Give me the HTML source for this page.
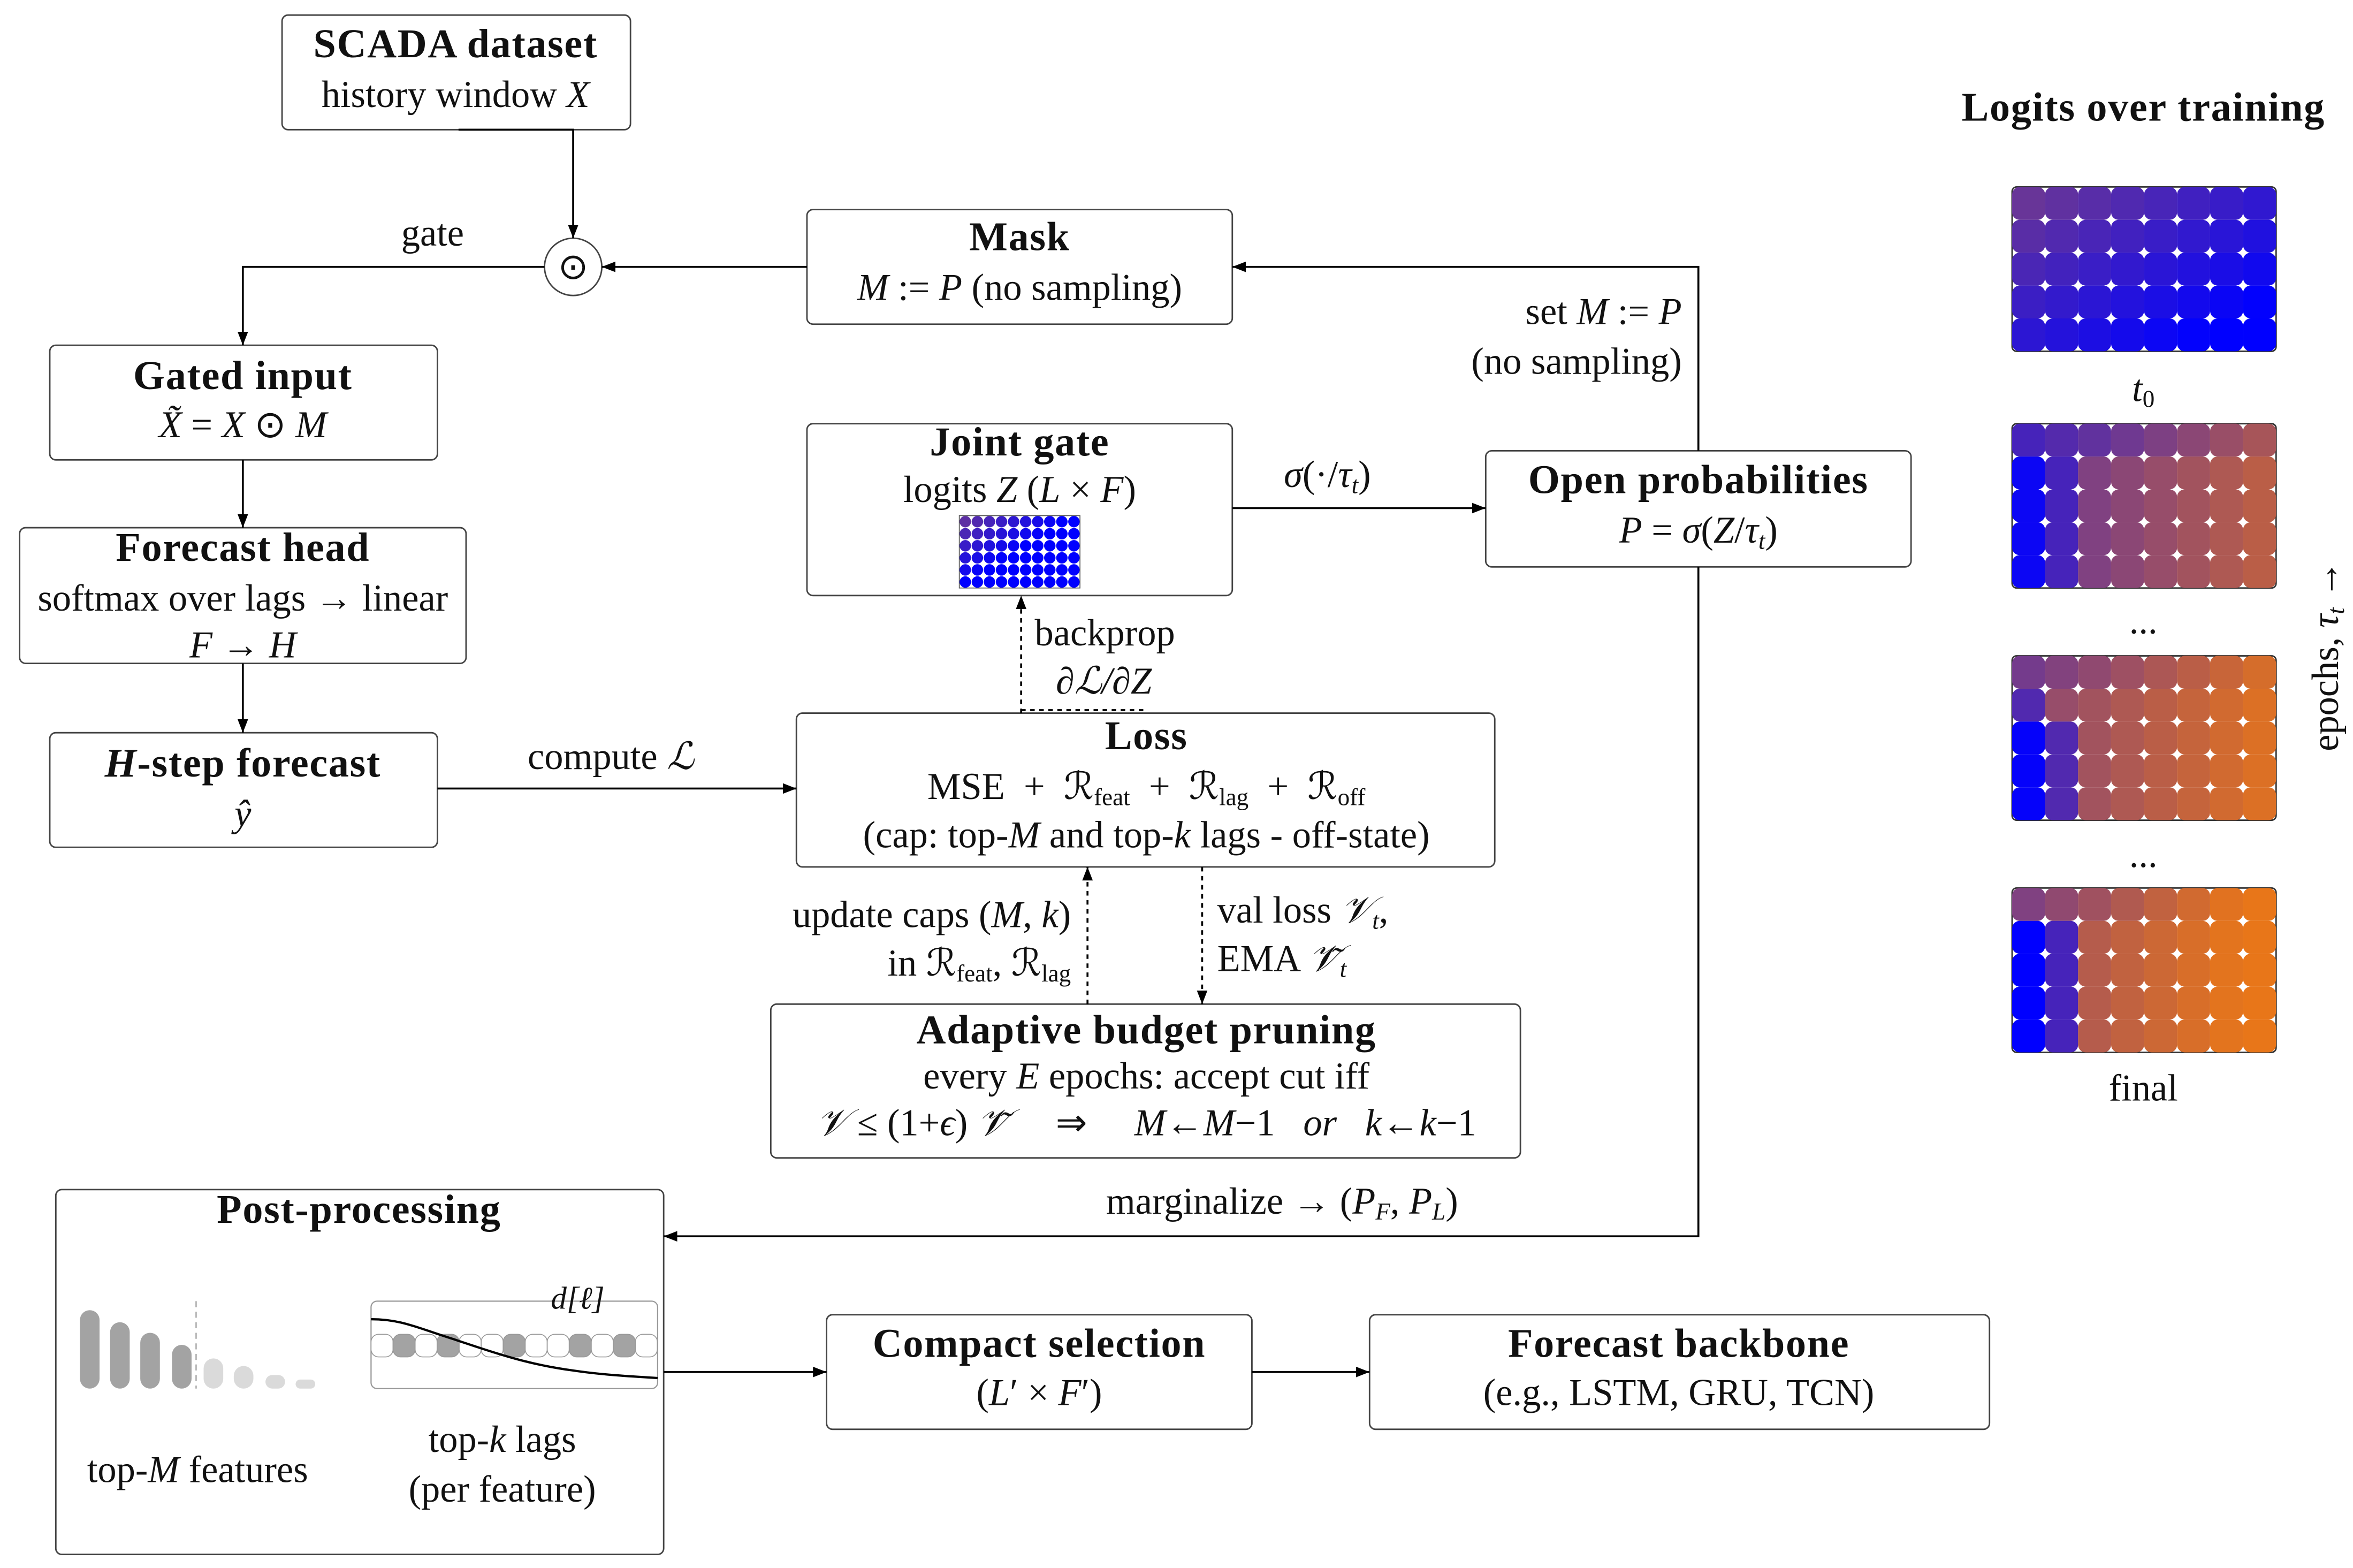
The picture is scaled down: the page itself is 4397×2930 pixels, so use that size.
<!DOCTYPE html>
<html><head><meta charset="utf-8"><style>
html,body{margin:0;padding:0;background:#fff;}
svg{display:block;}
text{font-family:"Liberation Serif",serif;fill:#111;white-space:pre;}
.t{font-size:27px;font-weight:bold;text-anchor:middle;letter-spacing:0.6px;}
.n{font-size:25px;text-anchor:middle;}
.l{font-size:25px;}
.b{fill:#fff;stroke:#444;stroke-width:1;}
.ln{stroke:#000;stroke-width:1.3;fill:none;}
.ds{stroke:#000;stroke-width:1.3;fill:none;stroke-dasharray:3,3;}
</style></head><body>
<svg id="s" width="4397" height="2930" viewBox="0 0 1560 1040" preserveAspectRatio="none" xmlns="http://www.w3.org/2000/svg">
<defs><marker id="a" markerWidth="10" markerHeight="8" refX="9" refY="4" orient="auto" markerUnits="userSpaceOnUse"><path d="M0,0.5 L9,4 L0,7.5 Z" fill="#000"/></marker></defs>

<rect class="b" x="187" y="10" width="231" height="76" rx="4"/>
<text class="t" x="302" y="38">SCADA dataset</text>
<text class="n" x="302" y="71">history window <tspan font-style="italic">X</tspan></text>

<circle cx="380" cy="177" r="19" fill="#fff" stroke="#444" stroke-width="1"/>
<text x="380" y="185" font-size="24" text-anchor="middle">⊙</text>

<rect class="b" x="535" y="139" width="282" height="76" rx="4"/>
<text class="t" x="676" y="166">Mask</text>
<text class="n" x="676" y="199"><tspan font-style="italic">M</tspan> := <tspan font-style="italic">P</tspan> (no sampling)</text>

<rect class="b" x="33" y="229" width="257" height="76" rx="4"/>
<text class="t" x="161" y="258">Gated input</text>
<text class="n" x="161" y="290"><tspan font-style="italic">X̃</tspan> = <tspan font-style="italic">X</tspan> ⊙ <tspan font-style="italic">M</tspan></text>

<rect class="b" x="13" y="350" width="296" height="90" rx="4"/>
<text class="t" x="161" y="372">Forecast head</text>
<text class="n" x="161" y="405">softmax over lags → linear</text>
<text class="n" x="161" y="436"><tspan font-style="italic">F</tspan> → <tspan font-style="italic">H</tspan></text>

<rect class="b" x="33" y="486" width="257" height="76" rx="4"/>
<text class="t" x="161" y="515"><tspan font-style="italic">H</tspan>-step forecast</text>
<text class="n" x="161" y="548" font-style="italic">ŷ</text>

<rect class="b" x="535" y="281" width="282" height="114" rx="4"/>
<text class="t" x="676" y="302">Joint gate</text>
<text class="n" x="676" y="333">logits <tspan font-style="italic">Z</tspan> (<tspan font-style="italic">L</tspan> × <tspan font-style="italic">F</tspan>)</text>
<g id="mini"></g>

<rect class="b" x="985" y="299" width="282" height="77" rx="4"/>
<text class="t" x="1126" y="327">Open probabilities</text>
<text class="n" x="1126" y="360"><tspan font-style="italic">P</tspan> = <tspan font-style="italic">σ</tspan>(<tspan font-style="italic">Z</tspan>/<tspan font-style="italic">τ</tspan><tspan font-size="16" font-style="italic" dy="4">t</tspan><tspan dy="-4">)</tspan></text>

<rect class="b" x="528" y="473" width="463" height="102" rx="4"/>
<text class="t" x="760" y="497">Loss</text>
<text class="n" x="760" y="530">MSE  +  ℛ<tspan font-size="16" dy="4">feat</tspan><tspan dy="-4">  +  ℛ</tspan><tspan font-size="16" dy="4">lag</tspan><tspan dy="-4">  +  ℛ</tspan><tspan font-size="16" dy="4">off</tspan></text>
<text class="n" x="760" y="562">(cap: top-<tspan font-style="italic">M</tspan> and top-<tspan font-style="italic">k</tspan> lags - off-state)</text>

<rect class="b" x="511" y="666" width="497" height="102" rx="4"/>
<text class="t" x="760" y="692">Adaptive budget pruning</text>
<text class="n" x="760" y="722">every <tspan font-style="italic">E</tspan> epochs: accept cut iff</text>
<text class="n" x="760" y="753"><tspan font-style="italic">𝒱</tspan> ≤ (1+<tspan font-style="italic">ϵ</tspan>) <tspan font-style="italic">𝒱̃</tspan>     ⇒     <tspan font-style="italic">M</tspan>←<tspan font-style="italic">M</tspan>−1   <tspan font-style="italic">or</tspan>   <tspan font-style="italic">k</tspan>←<tspan font-style="italic">k</tspan>−1</text>

<rect class="b" x="37" y="789" width="403" height="242" rx="4"/>
<text class="t" x="238" y="811">Post-processing</text>
<g fill="#a3a3a3">
<rect x="53" y="869" width="13" height="52" rx="6.5"/>
<rect x="73" y="877" width="13" height="44" rx="6.5"/>
<rect x="93" y="884" width="13" height="37" rx="6.5"/>
<rect x="114" y="892" width="13" height="29" rx="6.5"/>
</g>
<g fill="#dadada">
<rect x="135" y="901" width="13" height="20" rx="6.5"/>
<rect x="155" y="906" width="13" height="15" rx="6.5"/>
<rect x="176" y="912" width="13" height="9" rx="4.5"/>
<rect x="196" y="915" width="13" height="6" rx="3"/>
</g>
<line x1="130" y1="863" x2="130" y2="921" stroke="#999" stroke-width="0.8" stroke-dasharray="4,3"/>
<rect x="246" y="863" width="190" height="58" rx="4" fill="none" stroke="#999" stroke-width="0.8"/>
<g id="lags"></g>
<path d="M246,875 C265,875 275,880 300,888 C330,898 350,905 380,909 C400,912 420,913 436,914" stroke="#000" stroke-width="1.5" fill="none"/>
<text x="383" y="868" font-size="21" text-anchor="middle" font-style="italic">d[ℓ]</text>
<text class="n" x="131" y="983">top-<tspan font-style="italic">M</tspan> features</text>
<text class="n" x="333" y="963">top-<tspan font-style="italic">k</tspan> lags</text>
<text class="n" x="333" y="996">(per feature)</text>

<rect class="b" x="548" y="872" width="282" height="76" rx="4"/>
<text class="t" x="689" y="900">Compact selection</text>
<text class="n" x="689" y="932">(<tspan font-style="italic">L</tspan>′ × <tspan font-style="italic">F</tspan>′)</text>

<rect class="b" x="908" y="872" width="411" height="76" rx="4"/>
<text class="t" x="1113" y="900">Forecast backbone</text>
<text class="n" x="1113" y="932">(e.g., LSTM, GRU, TCN)</text>

<path class="ln" d="M304,86 H380 V158" marker-end="url(#a)"/>
<path class="ln" d="M535,177 H399" marker-end="url(#a)"/>
<path class="ln" d="M361,177 H161 V229" marker-end="url(#a)"/>
<text class="l" x="266" y="163">gate</text>
<path class="ln" d="M161,305 V350" marker-end="url(#a)"/>
<path class="ln" d="M161,440 V486" marker-end="url(#a)"/>
<path class="ln" d="M290,523 H528" marker-end="url(#a)"/>
<text class="n" x="405" y="510">compute <tspan font-style="italic">ℒ</tspan></text>
<path class="ds" d="M677,473 V395" marker-end="url(#a)"/>
<path class="ds" d="M677,471 H760"/>
<text class="l" x="686" y="428">backprop</text>
<text class="l" x="700" y="460" font-style="italic">∂ℒ/∂Z</text>
<path class="ln" d="M817,337 H985" marker-end="url(#a)"/>
<text class="n" x="880" y="323"><tspan font-style="italic">σ</tspan>(·/<tspan font-style="italic">τ</tspan><tspan font-size="16" font-style="italic" dy="4">t</tspan><tspan dy="-4">)</tspan></text>
<path class="ln" d="M1126,299 V177 H817" marker-end="url(#a)"/>
<path class="ln" d="M1126,376 V820 H440" marker-end="url(#a)"/>
<text class="l" x="1115" y="215" text-anchor="end">set <tspan font-style="italic">M</tspan> := <tspan font-style="italic">P</tspan></text>
<text class="l" x="1115" y="248" text-anchor="end">(no sampling)</text>
<text class="n" x="850" y="805">marginalize → (<tspan font-style="italic">P</tspan><tspan font-size="16" font-style="italic" dy="4">F</tspan><tspan dy="-4">, </tspan><tspan font-style="italic">P</tspan><tspan font-size="16" font-style="italic" dy="4">L</tspan><tspan dy="-4">)</tspan></text>
<path class="ds" d="M721,666 V575" marker-end="url(#a)"/>
<path class="ds" d="M797,575 V666" marker-end="url(#a)"/>
<text class="l" x="710" y="615" text-anchor="end">update caps (<tspan font-style="italic">M</tspan>, <tspan font-style="italic">k</tspan>)</text>
<text class="l" x="710" y="647" text-anchor="end">in ℛ<tspan font-size="16" dy="4">feat</tspan><tspan dy="-4">, ℛ</tspan><tspan font-size="16" dy="4">lag</tspan></text>
<text class="l" x="807" y="612">val loss <tspan font-style="italic">𝒱</tspan><tspan font-size="16" font-style="italic" dy="4">t</tspan><tspan dy="-4">,</tspan></text>
<text class="l" x="807" y="644">EMA <tspan font-style="italic">𝒱̃</tspan><tspan font-size="16" font-style="italic" dy="4">t</tspan></text>
<path class="ln" d="M440,910 H548" marker-end="url(#a)"/>
<path class="ln" d="M830,910 H908" marker-end="url(#a)"/>

<text class="t" x="1421" y="80">Logits over training</text>
<g id="grids"></g>
<text class="n" x="1421" y="266" font-style="italic">t<tspan font-size="16" dy="4" font-style="normal">0</tspan></text>
<text class="n" x="1421" y="420">...</text>
<text class="n" x="1421" y="575">...</text>
<text class="n" x="1421" y="730">final</text>
<text class="n" transform="translate(1550,435) rotate(-90)">epochs, <tspan font-style="italic">τ</tspan><tspan font-size="16" font-style="italic" dy="4">t</tspan><tspan dy="-4"> →</tspan></text>
</svg>
<script>
var NS="http://www.w3.org/2000/svg";
function mk(p,tag,at){var e=document.createElementNS(NS,tag);for(var k in at)e.setAttribute(k,at[k]);p.appendChild(e);return e;}
function col(w){w=Math.max(0,Math.min(1,w));var r=Math.round(232*w),g=Math.round(118*w),b=Math.round(255-230*w);return "rgb("+r+","+g+","+b+")";}
var G=document.getElementById("grids");
var ys=[124,281,435,589];
var fns=[
function(c,r){return 0.45-0.035*c-0.065*r;},
function(c,r){if(r==0)return 0.3+0.06*c; if(c==0)return 0.05; if(c==1)return 0.3; return 0.45+0.05*c;},
function(c,r){if(r==0)return 0.5+0.06*c; if(c==0&&r>=2)return 0.02; if(c==0)return 0.35; if(c==1&&r>=2)return 0.35; return 0.6+0.05*c;},
function(c,r){if(r==0)return 0.55+0.07*c; if(c==0&&r>=1)return 0.0; if(c==1&&r>=1)return 0.3; return 0.68+0.05*c;}
];
for(var s=0;s<4;s++){
 var cw=175/8,ch=109/5;
 mk(G,"rect",{x:1334,y:ys[s],width:175,height:109,rx:3,fill:"none",stroke:"#333","stroke-width":1});
 for(var r=0;r<5;r++)for(var c=0;c<8;c++){
  mk(G,"rect",{x:1334+c*cw,y:ys[s]+r*ch,width:cw,height:ch,rx:5,fill:col(fns[s](c,r))});
 }
}
var M=document.getElementById("mini");
mk(M,"rect",{x:636,y:342,width:80,height:48,fill:"none",stroke:"#555","stroke-width":0.6});
for(var r=0;r<6;r++)for(var c=0;c<10;c++){
 mk(M,"circle",{cx:640+c*8,cy:346+r*8,r:3.8,fill:col(0.4-0.05*c-0.08*r)});
}
var L=document.getElementById("lags");
var filled=[1,3,6,9,11];
for(var i=0;i<13;i++){
 mk(L,"rect",{x:246+i*14.6,y:885,width:14.6,height:15,rx:5,fill:filled.indexOf(i)>=0?"#a3a3a3":"#fff",stroke:"#999","stroke-width":0.6});
}
</script>
</body></html>
